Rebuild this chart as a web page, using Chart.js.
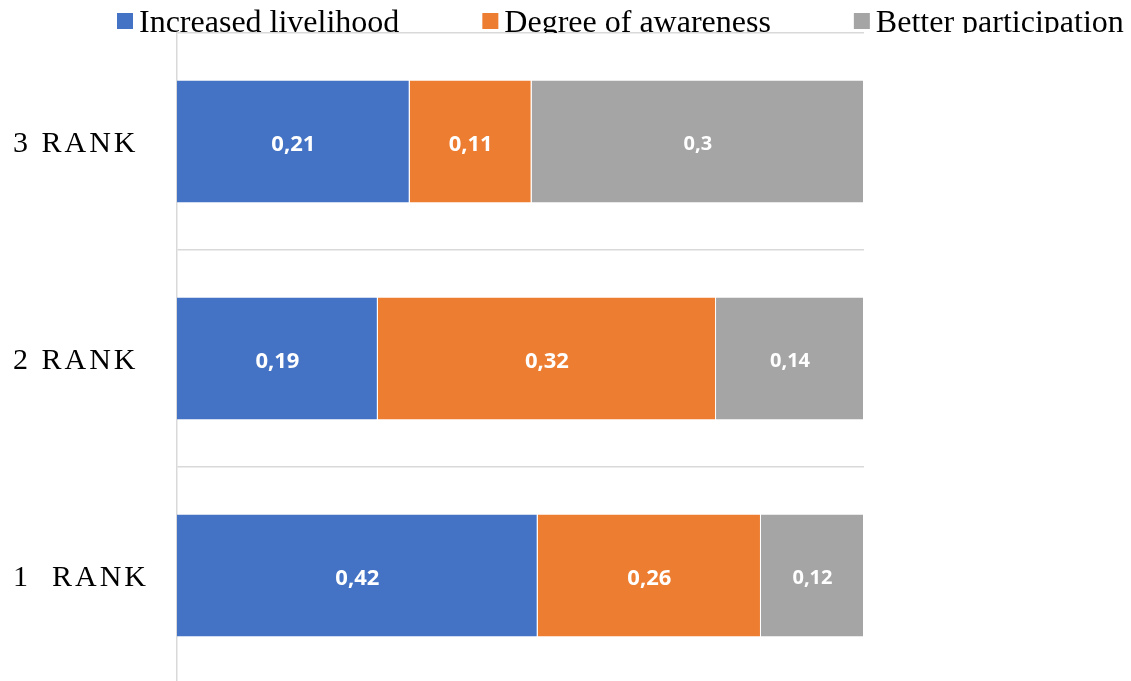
<!DOCTYPE html>
<html>
<head>
<meta charset="utf-8">
<script src="https://cdn.jsdelivr.net/npm/chart.js@4/dist/chart.umd.min.js"></script>
<style>
  html, body { margin: 0; padding: 0; background: #fff; overflow: hidden; }
  canvas { display: block; }
</style>
</head>
<body>
<canvas id="chart" width="1131" height="702"></canvas>
<script>
// values as printed on the bars (each row is drawn as 100%)
const ranks = ['3 RANK', '2 RANK', '1  RANK'];
const livelihood = [0.21, 0.19, 0.42];
const awareness = [0.11, 0.32, 0.26];
const participation = [0.3, 0.14, 0.12];

const seriesNames = ['Increased livelihood', 'Degree of awareness', 'Better participation'];
const seriesColors = ['#4472C4', '#ED7D31', '#A5A5A5'];

const rowTotals = ranks.map((_, i) => livelihood[i] + awareness[i] + participation[i]);
const share = arr => arr.map((v, i) => v / rowTotals[i]);

const rawValues = [livelihood, awareness, participation];

// data labels in the middle of each segment
const barLabels = {
  id: 'barLabels',
  afterDatasetsDraw(chart) {
    const ctx = chart.ctx;
    ctx.save();
    ctx.fillStyle = '#ffffff';
    ctx.textAlign = 'center';
    ctx.textBaseline = 'middle';
    chart.data.datasets.forEach((ds, d) => {
      const meta = chart.getDatasetMeta(d);
      ctx.font = d === 2 ? 'bold 20px "Open Sans"' : 'bold 22px "Open Sans"';
      meta.data.forEach((bar, i) => {
        const txt = String(rawValues[d][i]).replace('.', ',');
        ctx.fillText(txt, (bar.x + bar.base) / 2, bar.y + 3);
      });
    });
    ctx.restore();
  }
};

// letter spacing for the rank labels only
const rankSpacing = {
  id: 'rankSpacing',
  beforeDraw(chart) { chart.ctx.letterSpacing = '3px'; },
  beforeDatasetsDraw(chart) { chart.ctx.letterSpacing = '0px'; }
};

// legend drawn above the plot, clipped at the plot top like the original
const topLegend = {
  id: 'topLegend',
  afterDraw(chart) {
    const ctx = chart.ctx;
    const top = chart.chartArea.top;
    ctx.save();
    ctx.beginPath();
    ctx.rect(0, 0, chart.width, top);
    ctx.clip();
    ctx.font = '32px "Liberation Serif"';
    ctx.textBaseline = 'alphabetic';
    ctx.textAlign = 'left';
    let x = 117;
    chart.data.datasets.forEach(ds => {
      ctx.fillStyle = ds.backgroundColor;
      ctx.fillRect(x, 13, 16, 16);
      ctx.fillStyle = '#000';
      ctx.fillText(ds.label, x + 22, 32);
      x += 22 + ctx.measureText(ds.label).width + 83;
    });
    ctx.restore();
  }
};

const makeSet = (i, data) => ({
  label: seriesNames[i],
  data: share(data),
  backgroundColor: seriesColors[i],
  borderColor: '#ffffff',
  borderWidth: { left: 0, right: 1, top: 0, bottom: 0 },
  borderSkipped: false,
  barPercentage: 0.562,
  categoryPercentage: 1
});

new Chart(document.getElementById('chart'), {
  type: 'bar',
  data: {
    labels: ranks,
    datasets: [
      makeSet(0, livelihood),
      makeSet(1, awareness),
      makeSet(2, participation)
    ]
  },
  options: {
    indexAxis: 'y',
    responsive: false,
    animation: false,
    layout: { padding: { left: 13, right: 267, top: 33, bottom: 0 } },
    plugins: {
      legend: { display: false },
      tooltip: { enabled: false }
    },
    scales: {
      x: {
        stacked: true,
        min: 0,
        max: 1,
        display: false
      },
      y: {
        stacked: true,
        grid: {
          offset: true,
          color: '#d9d9d9',
          lineWidth: 1.5,
          drawTicks: false
        },
        border: { display: true, color: '#d9d9d9', width: 1.5 },
        ticks: {
          crossAlign: 'far',
          color: '#000',
          padding: 0,
          labelOffset: 3,
          font: { family: '"Liberation Serif"', size: 30 }
        },
        afterFit(scale) { scale.width = 164; }
      }
    }
  },
  plugins: [barLabels, rankSpacing, topLegend]
});
</script>
</body>
</html>
